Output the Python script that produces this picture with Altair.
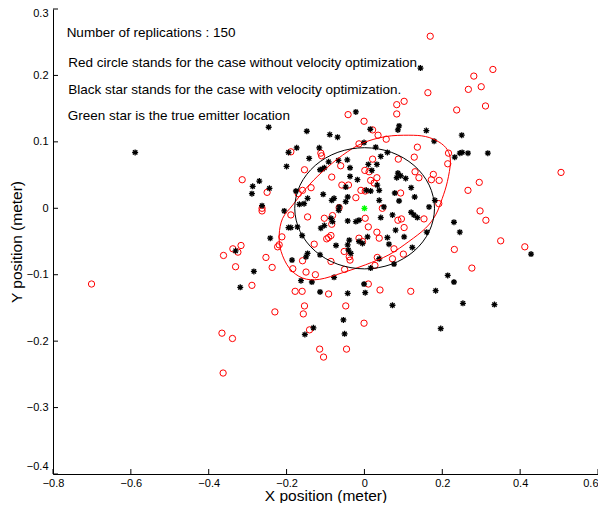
import altair as alt
import pandas as pd

# ---- data ----
red_x = [0.169, 0.330, 0.281, 0.300, 0.267, 0.163, 0.237, 0.311, 0.505, 0.295, 0.266, 0.297, 0.312, 0.350, 0.412,
         0.231, 0.276, 0.119, -0.001, -0.046, -0.048, -0.092, -0.115, -0.105, -0.141, -0.157, -0.154, -0.178, -0.160,
         -0.230, -0.289, -0.366, -0.339, -0.363, -0.701,
         -0.263, -0.263, -0.212, -0.223, -0.219, -0.317, -0.338, -0.325, -0.362, -0.331, -0.253, -0.237,
         -0.314, -0.250,
         -0.042, -0.001, 0.021, -0.189, -0.112, -0.110, -0.014, -0.061, -0.084, -0.154, -0.137, -0.159, -0.058, -0.009,
         0.002, 0.012, 0.016, 0.021,
         0.083, 0.102, 0.083, 0.035, 0.056, 0.136, 0.216, 0.214, 0.087, 0.130, 0.140, 0.177, 0.192, 0.172, 0.032, 0.093,
         -0.189, -0.146, -0.103, -0.082, -0.084, -0.092, -0.086, -0.097, -0.129, -0.052, -0.039, -0.037, 0.002, 0.010,
         -0.014, -0.005, -0.184, -0.159, -0.150, -0.126, -0.086, 0.010, -0.022,
         0.046, 0.086, 0.095, 0.102, 0.153, 0.191, 0.032, 0.038, 0.076, 0.100, 0.072, 0.040,
         0.128, 0.001, 0.025, 0.027, -0.051, -0.170, -0.065, 0.033, -0.041]
red_y = [0.259, 0.209, 0.199, 0.183, 0.179, 0.174, 0.148, 0.154, 0.054, 0.039, 0.027, -0.004, -0.018, -0.049, -0.058,
         -0.062, -0.090, -0.125, -0.173, -0.212, -0.147, -0.129, -0.212, -0.224, -0.183, -0.159, -0.147, -0.125, -0.125,
         -0.156, -0.116, -0.188, -0.196, -0.248, -0.114,
         0.000, -0.004, -0.043, -0.058, -0.055, -0.056, -0.061, -0.066, -0.071, -0.088, -0.074, -0.089,
         0.043, 0.024,
         0.141, 0.131, 0.118, 0.085, 0.083, 0.079, 0.097, 0.064, 0.047, 0.058, 0.031, 0.027, 0.035, 0.027,
         0.026, 0.055, 0.042, 0.074,
         0.156, 0.161, 0.142, 0.110, 0.104, 0.092, 0.083, 0.067, 0.074, 0.055, 0.046, 0.051, 0.042, 0.043, 0.046, 0.023,
         -0.010, -0.013, -0.015, -0.011, -0.024, -0.044, -0.041, -0.046, -0.054, -0.065, -0.073, -0.078, -0.015, -0.028,
         -0.045, -0.050, -0.091, -0.079, -0.096, -0.100, -0.080, -0.114, 0.016,
         0.000, -0.018, -0.016, -0.029, -0.016, 0.007, -0.036, -0.045, -0.061, -0.069, -0.076, -0.123,
         0.077, 0.057, 0.038, -0.086, -0.092, 0.022, 0.001, -0.074, 0.035]

black_x = [-0.589, 0.144, 0.250, 0.251, 0.245, 0.266, 0.317, 0.428, 0.245, 0.196, 0.253, 0.334, 0.072, -0.054, -0.051,
           -0.131, -0.153, -0.001,
           -0.246, -0.195, -0.200, -0.270, -0.287, -0.244, -0.289,
           -0.263, -0.206, -0.195, -0.242, -0.331, -0.284, -0.319,
           -0.022, 0.015, -0.148, -0.089, -0.069, -0.174, -0.116, -0.001, -0.142, -0.044, -0.037, -0.092, -0.067, -0.114,
           -0.108, -0.103, -0.037, -0.018, -0.048, -0.176, -0.106, 0.005, 0.016, 0.010, 0.019,
           0.089, 0.086, 0.159, 0.179, 0.232, 0.059, 0.042, 0.029, 0.032, 0.086, 0.093, 0.106, 0.083, 0.120, 0.078, 0.038,
           0.033,
           -0.167, -0.146, -0.155, -0.084, -0.078, -0.065, -0.066, -0.048, -0.043, -0.189, -0.172, -0.160, -0.112, -0.103,
           -0.086, -0.082, -0.043, -0.014, -0.022, 0.008, -0.014, -0.005, -0.039, -0.043, -0.041, -0.035, -0.073, -0.146,
           -0.150, -0.114, -0.186, 0.016, -0.163, -0.135, -0.078, -0.114, -0.043, 0.002,
           0.038, 0.089, 0.129, 0.181, 0.050, 0.042, 0.072, 0.120, 0.127, 0.136, 0.166, 0.230, 0.080, 0.102, 0.059, 0.063,
           0.160, 0.123, 0.038, 0.076, 0.214, 0.230, 0.183]
black_y = [0.084, 0.211, 0.110, 0.084, 0.083, 0.083, 0.083, -0.069, -0.036, -0.181, -0.143, -0.145, -0.146, -0.168, -0.189,
           -0.180, -0.190, -0.114,
           0.122, 0.084, 0.063, 0.041, 0.033, 0.030, 0.022,
           0.004, -0.004, -0.029, -0.045, -0.064, -0.095, -0.119,
           0.145, 0.119, 0.116, 0.111, 0.107, 0.091, 0.091, 0.099, 0.075, 0.073, 0.061, 0.070, 0.072, 0.058,
           0.059, 0.061, 0.048, 0.043, 0.032, 0.026, 0.021, 0.027, 0.026, 0.066, 0.057,
           0.124, 0.118, 0.117, 0.101, 0.077, 0.084, 0.078, 0.092, 0.066, 0.053, 0.049, 0.045, 0.046, 0.031, 0.023, 0.027,
           0.035,
           0.006, 0.015, 0.007, 0.012, 0.015, 0.002, -0.003, 0.010, 0.017, -0.029, -0.028, -0.041, -0.030, -0.026,
           -0.015, -0.020, -0.019, -0.018, -0.020, -0.043, -0.050, -0.053, -0.048, -0.055, -0.063, -0.068, -0.056, -0.068,
           -0.073, -0.070, -0.078, -0.090, -0.109, -0.111, -0.104, -0.126, -0.128, -0.127,
           0.012, 0.011, 0.017, 0.012, 0.002, -0.014, -0.010, -0.006, -0.010, -0.014, 0.002, -0.021, -0.033, -0.043, -0.044,
           -0.054, -0.036, -0.059, -0.076, -0.084, -0.101, -0.111, -0.124]

green_x = [0.0]
green_y = [0.0]

red_ell_x = [0.221, 0.213, 0.191, 0.157, 0.114, 0.055, -0.005, -0.056, -0.108, -0.150, -0.184, -0.210, -0.219,
             -0.214, -0.193, -0.159, -0.116, -0.056, 0.003, 0.063, 0.114, 0.157, 0.183, 0.200, 0.213]
red_ell_y = [0.070, 0.088, 0.100, 0.108, 0.110, 0.108, 0.098, 0.080, 0.055, 0.030, 0.005, -0.015, -0.040,
             -0.065, -0.090, -0.105, -0.107, -0.097, -0.085, -0.070, -0.050, -0.030, -0.010, 0.015, 0.040]
blk_ell_x = [0.180, 0.1663, 0.1274, 0.0692, 0.0005, -0.0682, -0.1264, -0.1653, -0.179, -0.1653, -0.1264, -0.0682,
             0.0005, 0.0692, 0.1274, 0.1663]
blk_ell_y = [0.0, 0.0349, 0.0645, 0.0843, 0.0912, 0.0843, 0.0645, 0.0349, 0.0, -0.0349, -0.0645, -0.0843,
             -0.0912, -0.0843, -0.0645, -0.0349]

notes = ["Number of replications : 150",
         "Red circle stands for the case without velocity optimization.",
         "Black star stands for the case with velocity optimization.",
         "Green star is the true emitter location"]
notes_x = [-0.765, -0.761, -0.761, -0.762]
notes_y = [0.2635, 0.2189, 0.178, 0.1396]

x_ticks = [-0.8, -0.6, -0.4, -0.2, 0.0, 0.2, 0.4, 0.6]
y_ticks = [-0.4, -0.3, -0.2, -0.1, 0.0, 0.1, 0.2, 0.3]

# ---- chart ----
W, H = 545, 465
FONT = "Liberation Sans"
xs = alt.Scale(domain=[-0.8, 0.6], nice=False, zero=False)
ys = alt.Scale(domain=[-0.4, 0.3], nice=False, zero=False)
STAR = "M-1,0L1,0M0,-1L0,1M-0.72,-0.72L0.72,0.72M-0.72,0.72L0.72,-0.72"

x_axis = alt.Axis(values=x_ticks, format=".1~f", ticks=False, tickSize=0, grid=False,
                  domainColor="black", domainWidth=1, labelColor="black", labelFont=FONT,
                  labelFontSize=11, labelPadding=3, labelFlush=False, labelOverlap=False,
                  labelAlign={"condition": {"test": "datum.value >= 0.59", "value": "right"},
                              "value": "center"},
                  title="X position (meter)", titleFont=FONT, titleFontSize=15.5,
                  titleFontWeight="normal", titleColor="black", titleX=W / 2, titleY=21.5,
                  titleBaseline="middle", titleAlign="center")
y_axis = alt.Axis(values=y_ticks, format=".1~f", ticks=False, tickSize=0, grid=False,
                  domainColor="black", domainWidth=1, labelColor="black", labelFont=FONT,
                  labelFontSize=11, labelPadding=5, labelFlush=False, labelOverlap=False,
                  labelOffset={"condition": [{"test": "datum.value <= -0.39", "value": -8},
                                             {"test": "datum.value >= 0.29", "value": 4}],
                               "value": 0},
                  title="Y position (meter)", titleFont=FONT, titleFontSize=15.5,
                  titleFontWeight="normal", titleColor="black", titleX=-37, titleY=H / 2,
                  titleAngle=270, titleBaseline="middle", titleAlign="center")

X = alt.X("x:Q", scale=xs, axis=x_axis)
Y = alt.Y("y:Q", scale=ys, axis=y_axis)

red_df = pd.DataFrame({"x": red_x, "y": red_y})
blk_df = pd.DataFrame({"x": black_x, "y": black_y})
grn_df = pd.DataFrame({"x": green_x, "y": green_y})
rell = pd.DataFrame({"x": red_ell_x, "y": red_ell_y, "i": list(range(len(red_ell_x)))})
bell = pd.DataFrame({"x": blk_ell_x, "y": blk_ell_y, "i": list(range(len(blk_ell_x)))})
txt = pd.DataFrame({"x": notes_x, "y": notes_y, "t": notes})
xt = pd.DataFrame({"x": x_ticks})
yt = pd.DataFrame({"y": y_ticks})

red = alt.Chart(red_df).mark_point(shape="circle", filled=False, color="#ff0000", size=40,
                                   strokeWidth=1, opacity=1).encode(x=X, y=Y)

blk = alt.Chart(blk_df).mark_point(shape=STAR, filled=False, color="black", size=36,
                                   strokeWidth=1.3, opacity=1).encode(x=X, y=Y)

r_line = alt.Chart(rell).mark_line(color="#ff0000", strokeWidth=1, interpolate="cardinal-closed").encode(
    x=X, y=Y, order="i:Q")
b_line = alt.Chart(bell).mark_line(color="black", strokeWidth=1, interpolate="cardinal-closed").encode(
    x=X, y=Y, order="i:Q")

grn = alt.Chart(grn_df).mark_point(shape=STAR, filled=False, color="#00ff00", size=36,
                                   strokeWidth=1.3, opacity=1).encode(x=X, y=Y)

text = alt.Chart(txt).mark_text(align="left", baseline="middle", font=FONT, fontSize=13.5,
                                color="black").encode(x=X, y=Y, text="t:N")

xtick = alt.Chart(xt).mark_rule(color="black", strokeWidth=1).encode(
    x=X, y=alt.value(H), y2=alt.value(H - 5))
ytick = alt.Chart(yt).mark_rule(color="black", strokeWidth=1).encode(
    y=Y, x=alt.value(0), x2=alt.value(5))

chart = alt.layer(red, blk, r_line, b_line, grn, text, xtick, ytick).properties(
    width=W, height=H,
    autosize=alt.AutoSizeParams(type="none"),
    padding={"left": 45, "top": 1, "right": 0, "bottom": 29},
    background="white",
).configure_view(stroke=None)

chart.save("out.html", embed_options={"renderer": "svg", "actions": False})
